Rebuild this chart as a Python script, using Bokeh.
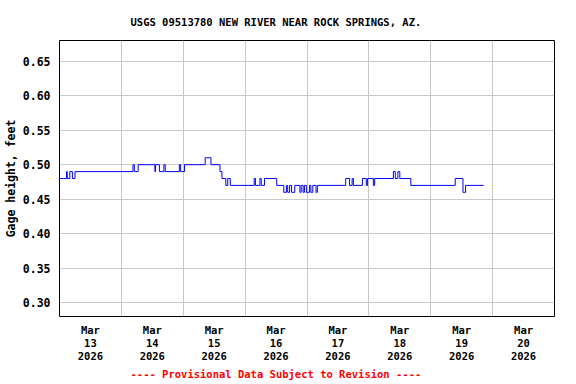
import pandas as pd
from bokeh.plotting import figure
from bokeh.models import FixedTicker, Range1d, Title
from bokeh.embed import file_html
from bokeh.resources import INLINE

# ---- data: gage height step changes (time of change, new value) ----
change_times = [
    "2026-03-13 00:00", "2026-03-13 02:45", "2026-03-13 03:00", "2026-03-13 04:00",
    "2026-03-13 05:00", "2026-03-13 06:00", "2026-03-14 04:30", "2026-03-14 05:00",
    "2026-03-14 06:30", "2026-03-14 13:00", "2026-03-14 13:15", "2026-03-14 14:45",
    "2026-03-14 16:30", "2026-03-14 17:00", "2026-03-14 22:30", "2026-03-14 23:00",
    "2026-03-15 00:30", "2026-03-15 08:30", "2026-03-15 10:45", "2026-03-15 14:15",
    "2026-03-15 15:00", "2026-03-15 16:30", "2026-03-15 17:15", "2026-03-15 18:15",
    "2026-03-16 03:30", "2026-03-16 04:00", "2026-03-16 05:45", "2026-03-16 06:15",
    "2026-03-16 07:30", "2026-03-16 12:15", "2026-03-16 15:00", "2026-03-16 16:00",
    "2026-03-16 16:30", "2026-03-16 17:15", "2026-03-16 18:00", "2026-03-16 19:15",
    "2026-03-16 21:15", "2026-03-16 21:45", "2026-03-16 22:30", "2026-03-16 23:00",
    "2026-03-16 23:45", "2026-03-17 01:00", "2026-03-17 01:30", "2026-03-17 02:15",
    "2026-03-17 03:30", "2026-03-17 04:00", "2026-03-17 15:00", "2026-03-17 16:30",
    "2026-03-17 17:30", "2026-03-17 18:00", "2026-03-17 21:30", "2026-03-17 23:00",
    "2026-03-17 23:30", "2026-03-18 01:45", "2026-03-18 02:15", "2026-03-18 09:30",
    "2026-03-18 10:15", "2026-03-18 11:15", "2026-03-18 12:00", "2026-03-18 16:15",
    "2026-03-19 09:30", "2026-03-19 12:30", "2026-03-19 13:30",
]
gage_levels = [
    0.48, 0.49, 0.48, 0.49,
    0.48, 0.49, 0.50, 0.49,
    0.50, 0.49, 0.50, 0.49,
    0.50, 0.49, 0.50, 0.49,
    0.50, 0.51, 0.50, 0.49,
    0.48, 0.47, 0.48, 0.47,
    0.48, 0.47, 0.48, 0.47,
    0.48, 0.47, 0.46, 0.47,
    0.46, 0.47, 0.46, 0.47,
    0.46, 0.47, 0.46, 0.47,
    0.46, 0.47, 0.46, 0.47,
    0.46, 0.47, 0.48, 0.47,
    0.48, 0.47, 0.48, 0.47,
    0.48, 0.47, 0.48, 0.49,
    0.48, 0.49, 0.48, 0.47,
    0.48, 0.46, 0.47,
]
last_time = "2026-03-19 20:30"

day_noons = ["2026-03-13 12:00", "2026-03-14 12:00", "2026-03-15 12:00", "2026-03-16 12:00",
             "2026-03-17 12:00", "2026-03-18 12:00", "2026-03-19 12:00", "2026-03-20 12:00"]
day_labels = ["Mar\n13\n2026", "Mar\n14\n2026", "Mar\n15\n2026", "Mar\n16\n2026",
              "Mar\n17\n2026", "Mar\n18\n2026", "Mar\n19\n2026", "Mar\n20\n2026"]
midnights = ["2026-03-14", "2026-03-15", "2026-03-16", "2026-03-17",
             "2026-03-18", "2026-03-19", "2026-03-20"]
y_ticks = [0.30, 0.35, 0.40, 0.45, 0.50, 0.55, 0.60, 0.65]
y_tick_labels = ["0.30", "0.35", "0.40", "0.45", "0.50", "0.55", "0.60", "0.65"]
x_start, x_end = "2026-03-13", "2026-03-21"
y_min, y_max = 0.28, 0.68

title_text = "USGS 09513780 NEW RIVER NEAR ROCK SPRINGS, AZ."
footer_text = "---- Provisional Data Subject to Revision ----"
y_label_text = "Gage height, feet"


def ms(s):
    return pd.Timestamp(s).value / 1e6


FONT = "DejaVu Sans Mono"

p = figure(width=576, height=384, output_backend="svg", toolbar_location=None,
           x_axis_type="datetime",
           x_range=Range1d(ms(x_start), ms(x_end)), y_range=Range1d(y_min, y_max),
           min_border_left=59, min_border_right=22, min_border_top=40, min_border_bottom=68)
p.background_fill_color = "white"
p.border_fill_color = "white"
p.outline_line_color = "black"
p.outline_line_width = 1
p.outline_line_alpha = 1.0

xs = [ms(t) for t in change_times] + [ms(last_time)]
ys = list(gage_levels) + [gage_levels[-1]]
p.step(xs, ys, mode="after", line_color="#0000ff", line_width=1)

# title
p.title.text = title_text
p.title.align = "left"
p.title.offset = 71
p.title.standoff = 26
p.title.text_font = FONT
p.title.text_font_style = "bold"
p.title.text_font_size = "10.5px"
p.title.text_color = "black"

# x axis
p.xaxis.ticker = FixedTicker(ticks=[ms(t) for t in day_noons])
p.xaxis.major_label_overrides = {ms(t): lab for t, lab in zip(day_noons, day_labels)}
p.xaxis.major_tick_out = 0
p.xaxis.major_tick_in = 0
p.xaxis.minor_tick_out = 0
p.xaxis.minor_tick_in = 0
p.xaxis.axis_line_color = None
p.xaxis.major_label_standoff = 7
p.xaxis.major_label_text_font = FONT
p.xaxis.major_label_text_font_style = "bold"
p.xaxis.major_label_text_font_size = "10.5px"
p.xaxis.major_label_text_line_height = 1.1
p.xaxis.major_label_text_color = "black"
p.xgrid.ticker = FixedTicker(ticks=[ms(t) for t in midnights])
p.xgrid.grid_line_color = "#c8c8c8"

# footer
p.add_layout(Title(text=footer_text, align="left", offset=71, standoff=3,
                   text_font=FONT, text_font_style="bold", text_font_size="10.5px",
                   text_color="red"), "below")

# y axis
p.yaxis.ticker = FixedTicker(ticks=y_ticks)
p.yaxis.major_label_overrides = {v: lab for v, lab in zip(y_ticks, y_tick_labels)}
p.yaxis.major_tick_out = 0
p.yaxis.major_tick_in = 0
p.yaxis.minor_tick_out = 0
p.yaxis.minor_tick_in = 0
p.yaxis.axis_line_color = None
p.yaxis.major_label_standoff = 9
p.yaxis.major_label_text_font = FONT
p.yaxis.major_label_text_font_style = "bold"
p.yaxis.major_label_text_font_size = "11.5px"
p.yaxis.major_label_text_color = "black"
p.yaxis.axis_label = y_label_text
p.yaxis.axis_label_standoff = 2
p.yaxis.axis_label_text_font = FONT
p.yaxis.axis_label_text_font_style = "bold"
p.yaxis.axis_label_text_font_size = "11.5px"
p.yaxis.axis_label_text_color = "black"
p.ygrid.grid_line_color = "#c8c8c8"

open("out.html", "w").write(file_html(p, INLINE))
